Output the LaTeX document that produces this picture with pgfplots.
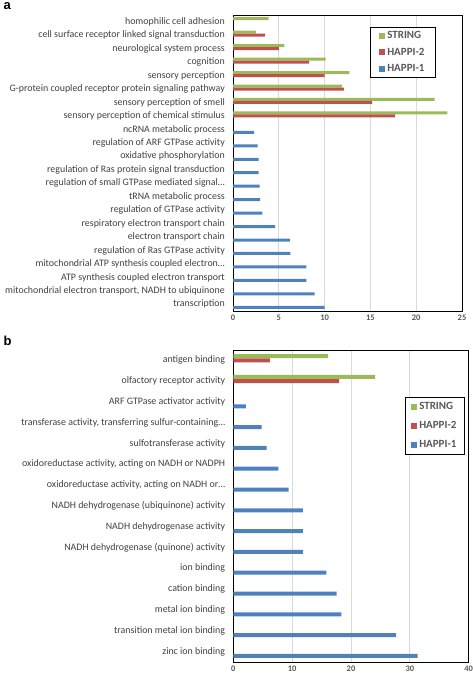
\documentclass[border=0pt]{standalone}
\usepackage{fontspec}
\setmainfont{Carlito}
\usepackage{pgfplots}
\pgfplotsset{compat=1.18}
\definecolor{cstr}{HTML}{9BBB59}
\definecolor{chp2}{HTML}{C0504D}
\definecolor{chp1}{HTML}{4F81BD}
\definecolor{txt}{HTML}{404040}
\definecolor{tck}{HTML}{595959}
\definecolor{grd}{HTML}{D9D9D9}
\pgfplotsset{
  mystyle/.style={
    scale only axis, xbar, y dir=reverse,
    axis line style={black, line width=0.7pt},
    xmajorgrids, major grid style={grd, line width=0.8pt},
    major tick length=0pt,
    tick label style={text=txt},
    yticklabel style={font=\fontsize{9.9}{10.5}\selectfont, inner sep=0pt, xshift=-8pt},
    xticklabel style={font=\fontsize{8.5}{9}\selectfont\bfseries, text=tck, inner sep=0pt, yshift=-4pt},
    /pgf/number format/assume math mode=true,
    legend cell align=left,
    legend image code/.code={\fill[##1] (0pt,-3pt) rectangle (6pt,3pt);},
    legend style={draw=black, line width=0.7pt, font=\fontsize{11}{11}\selectfont\bfseries, text=tck,
      anchor=north west, inner xsep=9pt, inner ysep=2pt, row sep=4pt},
  },
}
\begin{document}
\begin{tikzpicture}
\useasboundingbox (0,0) rectangle (473pt,-674pt);
\node[anchor=base west, inner sep=0, font=\fontspec{Liberation Sans}\bfseries\fontsize{13}{13}\selectfont] at (3.5pt,-10pt) {a};
\node[anchor=base west, inner sep=0, font=\fontspec{Liberation Sans}\bfseries\fontsize{13}{13}\selectfont] at (3.5pt,-345pt) {b};

\begin{axis}[mystyle,
  at={(233pt,-15pt)}, anchor=north west, width=229pt, height=296pt,
  bar width=3pt,
  xmin=0, xmax=25, xtick={0,5,...,25},
  ymin=-0.5, ymax=21.5, ytick={0,...,21},
  yticklabels={homophilic cell adhesion, cell surface receptor linked signal transduction, neurological system process, cognition, sensory perception, G-protein coupled receptor protein signaling pathway, sensory perception of smell, sensory perception of chemical stimulus, ncRNA metabolic process, regulation of ARF GTPase activity, oxidative phosphorylation, regulation of Ras protein signal transduction, regulation of small GTPase mediated signal…, tRNA metabolic process, regulation of GTPase activity, respiratory electron transport chain, electron transport chain, regulation of Ras GTPase activity, mitochondrial ATP synthesis coupled electron…, ATP synthesis coupled electron transport, {mitochondrial electron transport, NADH to ubiquinone}, transcription},
  legend style={at={(0.598,0.96)}},
]
\addplot[fill=cstr, draw=none, bar shift=3pt] coordinates {(3.9,0) (2.5,1) (5.6,2) (10.1,3) (12.7,4) (11.9,5) (22.0,6) (23.4,7)};
\addplot[fill=chp2, draw=none, bar shift=0pt] coordinates {(3.5,1) (5.0,2) (8.3,3) (10.0,4) (12.1,5) (15.2,6) (17.7,7)};
\addplot[fill=chp1, draw=none, bar shift=-3pt] coordinates {(2.3,8) (2.7,9) (2.8,10) (2.8,11) (2.9,12) (2.95,13) (3.2,14) (4.6,15) (6.2,16) (6.25,17) (8.0,18) (8.0,19) (8.9,20) (10.0,21)};
\legend{STRING, HAPPI-2, HAPPI-1}
\end{axis}

\begin{axis}[mystyle,
  at={(233.3pt,-350pt)}, anchor=north west, width=235.4pt, height=312pt,
  bar width=4pt,
  xmin=0, xmax=40, xtick={0,10,...,40},
  ymin=-0.5, ymax=14.5, ytick={0,...,14},
  yticklabels={antigen binding, olfactory receptor activity, ARF GTPase activator activity, {transferase activity, transferring sulfur-containing…}, sulfotransferase activity, {oxidoreductase activity, acting on NADH or NADPH}, {oxidoreductase activity, acting on NADH or…}, NADH dehydrogenase (ubiquinone) activity, NADH dehydrogenase activity, NADH dehydrogenase (quinone) activity, ion binding, cation binding, metal ion binding, transition metal ion binding, zinc ion binding},
  legend style={at={(0.729,0.85)}, inner xsep=6pt, inner ysep=3pt, row sep=6.5pt},
]
\addplot[fill=cstr, draw=none, bar shift=4.3pt] coordinates {(16.1,0) (24.1,1)};
\addplot[fill=chp2, draw=none, bar shift=0pt] coordinates {(6.2,0) (18.0,1)};
\addplot[fill=chp1, draw=none, bar shift=-4.3pt] coordinates {(2.15,2) (4.8,3) (5.67,4) (7.65,5) (9.4,6) (11.84,7) (11.84,8) (11.84,9) (15.8,10) (17.56,11) (18.36,12) (27.65,13) (31.3,14)};
\legend{STRING, HAPPI-2, HAPPI-1}
\end{axis}
\end{tikzpicture}
\end{document}
